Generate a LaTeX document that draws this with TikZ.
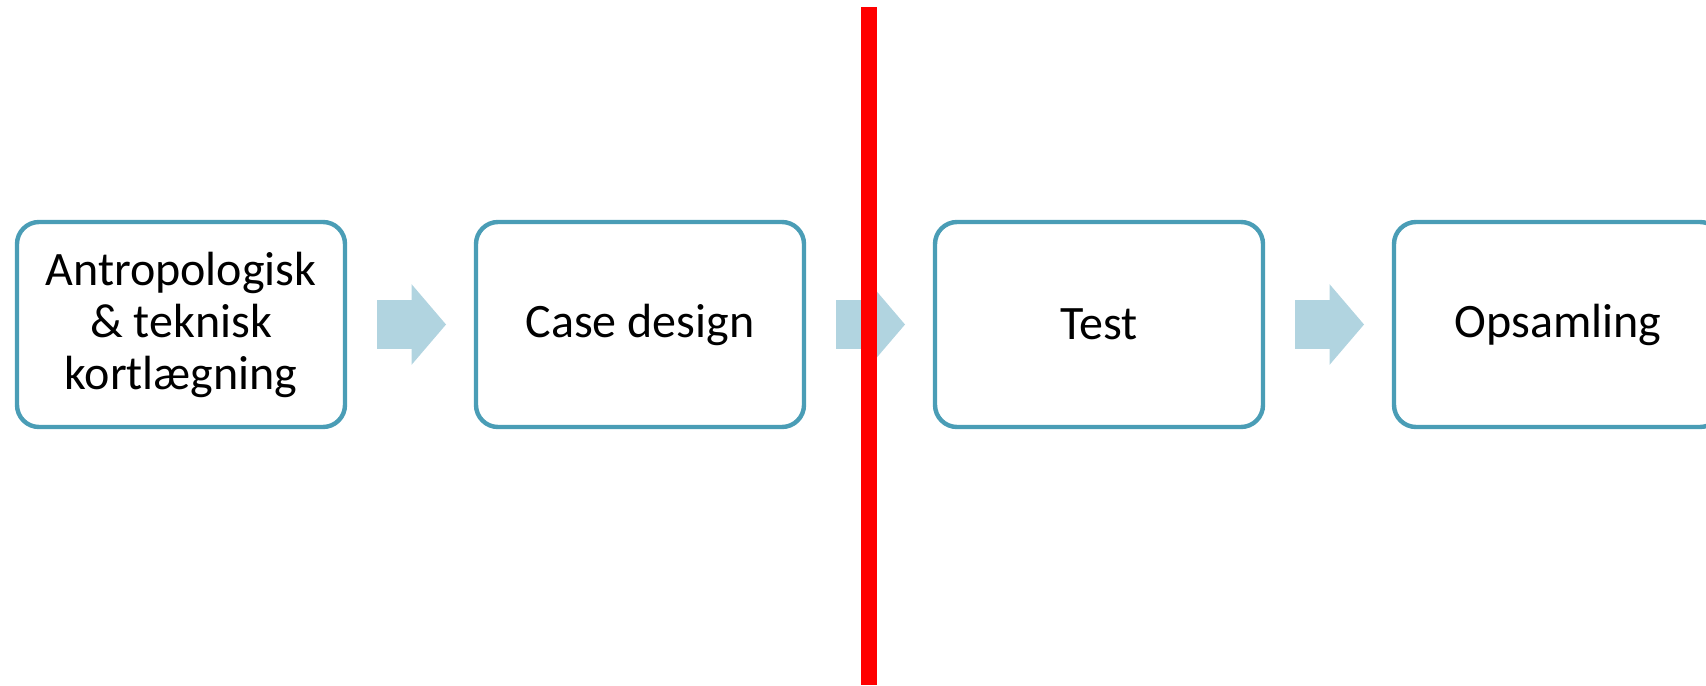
\documentclass[tikz,border=0pt]{standalone}
\usepackage{fontspec}
\setmainfont{Carlito}
\usepackage{tikz}
\usetikzlibrary{shapes.arrows,positioning}

\definecolor{stageblue}{RGB}{74,157,182}
\definecolor{flowblue}{RGB}{177,212,224}

\begin{document}
\begin{tikzpicture}[node distance=65.5pt,
                    stage/.style={draw=stageblue,line width=2.2pt,rounded corners=11pt,
                                  fill=white,minimum width=164pt,minimum height=102.5pt,
                                  outer sep=0pt,align=center,
                                  font=\fontsize{24}{26}\selectfont},
                    flow/.style={single arrow,fill=flowblue,draw=none,inner xsep=0pt,
                                 inner ysep=12pt,outer sep=0pt,minimum height=34.5pt,
                                 minimum width=40pt,single arrow head extend=8pt,
                                 single arrow tip angle=99}]
  \tikzstyle{cut}=[draw=red,line width=8pt]
  \useasboundingbox (0pt,0pt) rectangle (853pt,-342.5pt);

  \node[stage] (antro) at (90.5pt,-162.25pt) {Antropologisk\\ \& teknisk\\ kortlægning};
  \node[stage] (case)  [right=of antro] {Case design};
  \node[stage] (test)  [right=of case]  {Test};
  \node[stage] (opsam) [right=of test]  {Opsamling};

  \node[flow] (f1) [right=16pt of antro] {};
  \node[flow] (f2) [right=16pt of case]  {};
  \node[flow] (f3) [right=16pt of test]  {};

  % skillelinje
  \coordinate (cuttop) at (434.5pt,-3.5pt);
  \coordinate (cutbot) at (434.5pt,-342.5pt);
  \path[cut] (cuttop) -- (cutbot);

\end{tikzpicture}
\end{document}
